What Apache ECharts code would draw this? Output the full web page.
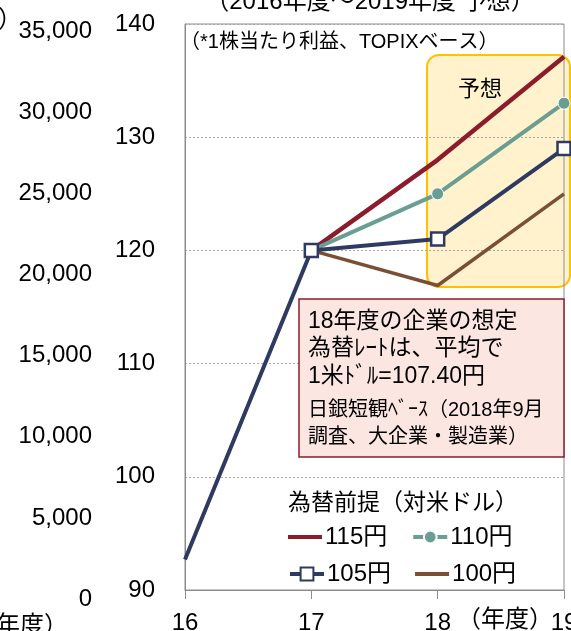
<!DOCTYPE html>
<html>
<head>
<meta charset="utf-8">
<script src="https://cdn.jsdelivr.net/npm/echarts@6/dist/echarts.min.js"></script>
<style>
html,body{margin:0;padding:0;background:#fff;}
#chart{width:571px;height:631px;}
</style>
</head>
<body>
<div id="chart"></div>
<script>
// ---- data ----
const years = ['16', '17', '18', '19'];
const yen115 = [null, 120, 128.0, 137.1];
const yen110 = [null, 120, 125.0, 133.0];
const yen105 = [92.7, 120, 121.0, 129.0];
const yen100 = [null, 120, 116.9, 125.0];
const seriesNames = ['115円', '110円', '105円', '100円'];
const leftAxisMin = 0, leftAxisMax = 35000, leftAxisStep = 5000;
const rightAxisMin = 90, rightAxisMax = 140, rightAxisStep = 10;
const titleText = '（2016年度～2019年度 予想）';
const noteText = '（*1株当たり利益、TOPIXベース）';
const boxLines = ['18年度の企業の想定', '為替ﾚｰﾄは、平均で', '1米ﾄﾞﾙ=107.40円'];
const boxSmallLines = ['日銀短観ﾍﾞｰｽ（2018年9月', '調査、大企業・製造業）'];
const legendTitle = '為替前提（対米ドル）';
const forecastLabel = '予想';

const FONT = '"Liberation Sans", "Noto Sans CJK JP", sans-serif';
const C115 = '#8C1C2B', C110 = '#6A9E94', C105 = '#2F3A61', C100 = '#7A4F34';
const LINE_ICON = 'path://M0,0H34V4H0Z';

const chart = echarts.init(document.getElementById('chart'), null, {renderer: 'canvas'});

// the 16 point of the 105 series carries no marker
const yen105Data = yen105.map((v, i) => i === 0 ? {value: v, symbol: 'none'} : v);

const legendCommon = {
  left: 283, orient: 'horizontal',
  itemWidth: 34, itemHeight: 16, itemGap: 24,
  symbolKeepAspect: true,
  lineStyle: {width: 4},
  textStyle: {fontSize: 24, color: '#000', fontFamily: FONT, padding: [0, 0, 0, -2]}
};

const option = {
  backgroundColor: '#fff',
  animation: false,
  textStyle: {fontFamily: FONT},
  grid: [
    {left: 185, right: 7, top: 24, bottom: 41, show: true, borderColor: '#8c8c8c', borderWidth: 1,
      backgroundColor: 'transparent', containLabel: false, outerBoundsMode: 'none'},
    {left: 100, width: 1, top: 31.5, bottom: 32, show: false, containLabel: false, outerBoundsMode: 'none'}
  ],
  xAxis: [
    {
      type: 'category', gridIndex: 0, data: years, boundaryGap: false,
      axisLine: {lineStyle: {color: '#8c8c8c', width: 1}},
      axisTick: {show: true, length: 9, lineStyle: {color: '#8c8c8c'}, alignWithLabel: true},
      axisLabel: {fontSize: 24, color: '#000', margin: 21, interval: 0, fontFamily: FONT, hideOverlap: false}
    },
    {type: 'value', gridIndex: 1, show: false}
  ],
  yAxis: [
    {
      type: 'value', gridIndex: 0, min: rightAxisMin, max: rightAxisMax, interval: rightAxisStep,
      axisLine: {show: true, lineStyle: {color: '#8c8c8c'}},
      axisTick: {show: false},
      axisLabel: {fontSize: 24, color: '#000', margin: 30, fontFamily: FONT},
      splitLine: {show: true, lineStyle: {color: '#a6a6a6', type: [2, 2], width: 1}}
    },
    {
      type: 'value', gridIndex: 1, min: leftAxisMin, max: leftAxisMax, interval: leftAxisStep,
      axisLine: {show: false}, axisTick: {show: false}, splitLine: {show: false},
      axisLabel: {fontSize: 24, color: '#000', margin: 8, fontFamily: FONT,
        formatter: v => String(v).replace(/\B(?=(\d{3})+(?!\d))/g, ',')}
    }
  ],
  legend: [
    Object.assign({}, legendCommon, {
      top: 520,
      data: [{name: seriesNames[0], icon: LINE_ICON}, {name: seriesNames[1]}]
    }),
    Object.assign({}, legendCommon, {
      top: 557,
      data: [{name: seriesNames[2]}, {name: seriesNames[3], icon: LINE_ICON}]
    })
  ],
  series: [
    {
      name: seriesNames[0], type: 'line', data: yen115, xAxisIndex: 0, yAxisIndex: 0,
      symbol: 'none', lineStyle: {color: C115, width: 4.5}, itemStyle: {color: C115}, z: 3
    },
    {
      name: seriesNames[1], type: 'line', data: yen110, xAxisIndex: 0, yAxisIndex: 0,
      symbol: 'circle', symbolSize: 12, showAllSymbol: true,
      lineStyle: {color: C110, width: 4}, itemStyle: {color: C110, borderColor: '#fff', borderWidth: 1}, z: 4
    },
    {
      name: seriesNames[2], type: 'line', data: yen105Data, xAxisIndex: 0, yAxisIndex: 0,
      symbol: 'rect', symbolSize: 13, showAllSymbol: true,
      lineStyle: {color: C105, width: 4}, itemStyle: {color: '#fff', borderColor: C105, borderWidth: 2.5}, z: 6
    },
    {
      name: seriesNames[3], type: 'line', data: yen100, xAxisIndex: 0, yAxisIndex: 0,
      symbol: 'none', lineStyle: {color: C100, width: 3.5}, itemStyle: {color: C100}, z: 2
    }
  ],
  graphic: {
    elements: [
      {type: 'rect', z: -1, shape: {x: 427, y: 55, width: 143, height: 232, r: 12},
        style: {fill: '#FFF2CC', stroke: '#FFC000', lineWidth: 2}},
      {type: 'text', z: 10, x: 480, y: 90,
        style: {text: forecastLabel, font: '22px ' + FONT, fill: '#000', textAlign: 'center', textVerticalAlign: 'middle'}},
      {type: 'text', z: 10, x: 370, y: 2,
        style: {text: titleText, font: '24px ' + FONT, fill: '#000', textAlign: 'center', textVerticalAlign: 'middle'}},
      {type: 'text', z: 10, x: 22, y: 20,
        style: {text: '（円）', font: '24px ' + FONT, fill: '#000', textAlign: 'right', textVerticalAlign: 'middle'}},
      {type: 'text', z: 10, x: 68, y: 626,
        style: {text: '（年度）', font: '24px ' + FONT, fill: '#000', textAlign: 'right', textVerticalAlign: 'middle'}},
      {type: 'text', z: 10, x: 505, y: 620,
        style: {text: '（年度）', font: '24px ' + FONT, fill: '#000', textAlign: 'center', textVerticalAlign: 'middle'}},
      {type: 'text', z: 10, x: 180, y: 42,
        style: {text: noteText, font: '20px ' + FONT, fill: '#000', textAlign: 'left', textVerticalAlign: 'middle'}},
      {type: 'rect', z: 8, shape: {x: 299, y: 299, width: 265, height: 158},
        style: {fill: '#FCE6E2', stroke: '#8C1C2B', lineWidth: 1.5}},
      {type: 'text', z: 10, x: 308, y: 322,
        style: {text: boxLines[0], font: '23px ' + FONT, fill: '#000', textAlign: 'left', textVerticalAlign: 'middle'}},
      {type: 'text', z: 10, x: 308, y: 349,
        style: {text: boxLines[1], font: '23px ' + FONT, fill: '#000', textAlign: 'left', textVerticalAlign: 'middle'}},
      {type: 'text', z: 10, x: 308, y: 377,
        style: {text: boxLines[2], font: '23px ' + FONT, fill: '#000', textAlign: 'left', textVerticalAlign: 'middle'}},
      {type: 'text', z: 10, x: 308, y: 410,
        style: {text: boxSmallLines[0], font: '20px ' + FONT, fill: '#000', textAlign: 'left', textVerticalAlign: 'middle'}},
      {type: 'text', z: 10, x: 308, y: 437,
        style: {text: boxSmallLines[1], font: '20px ' + FONT, fill: '#000', textAlign: 'left', textVerticalAlign: 'middle'}},
      {type: 'text', z: 10, x: 403, y: 504,
        style: {text: legendTitle, font: '23px ' + FONT, fill: '#000', textAlign: 'center', textVerticalAlign: 'middle'}}
    ]
  }
};
chart.setOption(option);
</script>
</body>
</html>
